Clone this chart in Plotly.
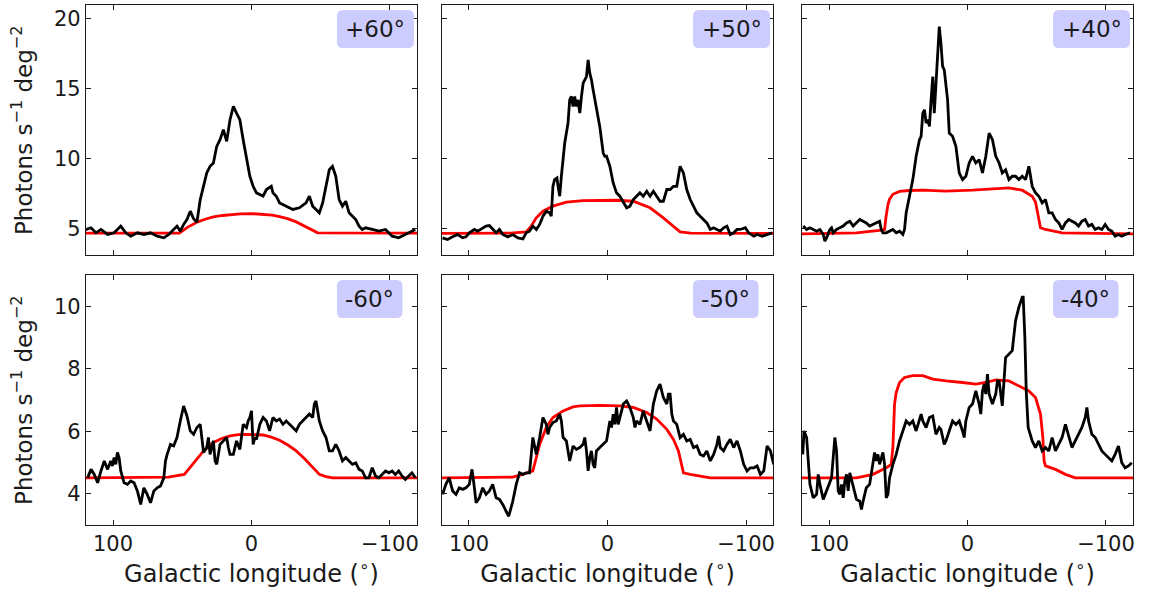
import plotly.graph_objects as go
from plotly.subplots import make_subplots

# ---------------- data ----------------
panel_labels = ["+60°", "+50°", "+40°", "-60°", "-50°", "-40°"]

# +60 deg : observed profile
lon_obs_p60 = [120, 115.9, 112.3, 108.7, 103.9, 99.2, 94.4, 90.8, 87.2, 82.4, 77.7, 72.9, 68.1, 63.3,
               59.7, 56.2, 53.8, 51.4, 49.0, 46.6, 44.2, 41.8, 39.4, 37.0, 34.6, 32.3, 29.9, 27.5,
               25.1, 22.7, 20.3, 17.9, 15.5, 13.1, 10.8, 8.4, 6.0, 3.6, 1.2, -1.2, -3.6, -6.0, -8.4,
               -10.8, -14.3, -15.5, -17.9, -20.3, -25.1, -29.9, -34.6, -39.4, -41.8, -44.2, -46.6,
               -49.0, -51.4, -53.8, -56.2, -58.5, -60.9, -63.3, -65.7, -68.1, -70.5, -75.3, -77.7,
               -80.0, -82.4, -87.2, -92.0, -96.8, -101.6, -106.3, -111.1, -115.9, -118.3]
flux_obs_p60 = [4.90, 5.05, 4.69, 4.93, 4.57, 4.69, 5.17, 4.69, 4.45, 4.69, 4.57, 4.69, 4.45, 4.33,
                4.57, 4.93, 5.17, 4.81, 5.29, 5.64, 6.24, 5.70, 5.45, 7.07, 8.02, 8.98, 9.45, 9.69,
                10.88, 11.36, 12.07, 11.24, 12.79, 13.74, 13.26, 12.79, 11.36, 9.93, 8.74, 8.02, 7.55,
                7.43, 7.31, 7.79, 8.02, 7.55, 7.31, 6.83, 6.60, 6.36, 6.48, 6.83, 7.31, 6.60, 6.36,
                6.12, 6.83, 8.02, 9.21, 9.45, 8.74, 7.07, 6.60, 6.95, 6.12, 5.64, 5.17,
                4.93, 5.05, 4.93, 4.81, 4.93, 4.45, 4.33, 4.57, 4.81, 4.93]
lon_mod_p60 = [120, 52, 46, 39.4, 33, 27.5, 21, 15.5, 8, 0, -8.4, -15, -20.3, -26, -32.3, -38,
               -44.2, -47.8, -120]
flux_mod_p60 = [4.67, 4.67, 5.1, 5.45, 5.68, 5.83, 5.93, 6.0, 6.05, 6.07, 6.03, 5.95, 5.85, 5.7,
                5.47, 5.18, 4.86, 4.69, 4.67]

# +50 deg
lon_obs_p50 = [119.1, 115.5, 111.8, 108.2, 104.6, 102.2, 99.8, 96.1, 93.7, 91.3, 87.7, 85.3, 82.9,
               80.4, 78.0, 75.6, 72.0, 68.4, 64.7, 61.1, 58.7, 56.3, 53.9, 51.4, 49.0, 46.6, 44.2,
               41.8, 40.6, 39.4, 38.2, 36.5, 35.7, 34.5, 33.3, 30.9, 28.5, 27.3, 26.1, 24.9, 23.7,
               22.5, 21.3, 20.0, 18.8, 17.6, 15.2, 14.0, 12.8, 11.6, 10.4, 8.0, 5.6, 3.1, 1.9, 0.7,
               -1.7, -4.1, -6.5, -8.9, -11.4, -13.8, -16.2, -18.6, -21.0, -23.4, -25.8, -28.3,
               -30.7, -33.1, -35.5, -37.9, -40.3, -42.8, -45.2, -47.6, -50.0, -52.4, -54.8, -57.2,
               -59.7, -62.1, -64.5, -66.9, -69.3, -71.7, -74.2, -76.6, -79.0, -81.4, -83.8, -86.2,
               -88.6, -91.1, -93.5, -95.9, -99.5, -101.9, -105.6, -108.0, -111.6, -115.2, -118.8]
flux_obs_p50 = [4.33, 4.21, 4.40, 4.57, 4.33, 4.40, 4.69, 4.93, 4.81, 4.98, 5.17, 5.21, 4.93,
                4.69, 4.93, 4.57, 4.40, 4.57, 4.33, 4.26, 4.69, 4.81, 5.17, 4.93, 5.29, 5.88, 6.24,
                6.12, 5.88, 8.02, 8.50, 8.62, 8.02, 7.31, 8.74, 11.12, 12.55, 14.21, 14.45, 13.74, 14.45,
                13.74, 14.21, 13.26, 14.45, 15.40, 15.88, 17.07, 16.12, 15.64, 14.93, 13.74, 12.31, 10.40,
                10.17, 10.17, 9.45, 8.26, 7.55, 7.31, 6.83, 6.48, 6.60, 7.07, 7.31, 7.55, 7.31, 7.67,
                7.31, 7.67, 7.31, 6.95, 6.95, 7.79, 7.79, 8.02, 8.02, 9.45, 8.98, 7.79,
                7.07, 6.60, 6.12, 5.88, 5.64, 5.40, 4.93, 5.05, 4.93, 4.81, 5.05, 5.17,
                4.57, 4.69, 4.93, 4.93, 5.05, 4.69, 4.45, 4.57, 4.45, 4.57, 4.69]
lon_mod_p50 = [120, 70, 58.7, 55.1, 51.4, 46.6, 39.4, 29.7, 17.6, 5.6, -6.5, -18.6, -30.7, -40.3,
               -47.6, -51.2, -52.4, -60, -120]
flux_mod_p50 = [4.65, 4.67, 4.76, 5.17, 5.76, 6.24, 6.6, 6.88, 7.0, 7.02, 7.02, 6.95, 6.48, 5.76,
                5.17, 4.86, 4.76, 4.67, 4.65]

# +40 deg
lon_obs_p40 = [118.6, 116.2, 113.8, 111.4, 109.0, 106.6, 104.2, 103.0, 101.8, 99.4, 98.2, 97.0,
               94.6, 92.2, 89.8, 87.4, 85.0, 82.6, 80.2, 77.8, 75.4, 73.1, 70.7, 68.3, 65.9, 63.5,
               62.3, 61.1, 58.7, 56.3, 53.9, 51.5, 49.1, 46.7, 45.5, 44.3, 41.9, 39.5, 37.1, 34.7,
               33.5, 32.3, 31.1, 29.9, 28.7, 27.5, 26.3, 25.1, 24.0, 22.8, 21.6, 20.4, 19.2, 18.0,
               16.8, 15.6, 14.4, 13.2, 10.8, 8.4, 6.0, 3.6, 1.2, -1.2, -3.6, -6.0, -8.4, -10.8,
               -13.2, -15.6, -18.0, -20.4, -22.8, -25.1, -27.5, -29.9, -32.3, -34.7, -37.1, -39.5,
               -41.9, -44.3, -46.7, -49.1, -51.5, -53.9, -56.3, -58.7, -61.1, -63.5, -65.9, -68.3,
               -70.7, -73.1, -75.4, -77.8, -80.2, -82.6, -85.0, -87.4, -89.8, -92.2, -94.6, -97.0,
               -99.4, -101.8, -104.2, -106.6, -109.0, -111.4, -113.8, -117.4]
flux_obs_p40 = [5.17, 4.93, 5.05, 4.93, 4.81, 4.93, 4.57, 4.10, 4.33, 4.93, 5.05, 4.69,
                4.93, 5.05, 5.17, 5.40, 5.52, 5.17, 5.40, 5.64, 5.52, 5.40, 5.17, 5.29, 5.40, 5.52,
                4.93, 4.69, 4.69, 4.81, 4.93, 4.69, 4.81, 4.57, 4.93, 6.12, 7.31, 8.50, 10.17, 11.36,
                11.60, 13.26, 13.50, 12.55, 12.79, 12.31, 14.21, 15.88, 13.26, 15.40, 17.07, 19.45, 18.26, 16.60,
                16.36, 15.40, 14.21, 11.83, 11.60, 10.88, 8.98, 8.50, 8.74, 9.69, 10.17, 9.69, 9.93, 8.98,
                10.17, 11.83, 11.36, 10.17, 9.69, 8.98, 9.21, 8.50, 8.74, 8.74, 8.50, 8.74,
                8.50, 9.45, 8.02, 7.55, 7.31, 6.83, 7.07, 6.12, 6.12, 5.64, 5.40, 4.93,
                5.40, 5.64, 5.52, 5.40, 5.17, 5.52, 5.64, 5.17, 5.29, 4.93, 5.05, 4.93,
                5.29, 4.93, 4.81, 4.45, 4.57, 4.45, 4.57, 4.69]
lon_mod_p40 = [120, 80.2, 63.5, 59.9, 58.9, 57.5, 56.3, 53.9, 49.1, 41.9, 32.3, 15.6, -3.6, -20.4,
               -29.9, -39.5, -46.7, -49.1, -50.3, -51.5, -52.7, -56.3, -68.3, -120]
flux_mod_p40 = [4.62, 4.69, 4.86, 4.93, 5.8, 6.7, 7.1, 7.45, 7.65, 7.72, 7.74, 7.67, 7.74, 7.83,
                7.90, 7.74, 7.31, 6.9, 6.36, 5.64, 5.05, 4.93, 4.69, 4.62]

# -60 deg
lon_obs_m60 = [118.3, 115.9, 113.5, 111.1, 108.7, 106.3, 103.9, 101.6, 100.4, 99.2, 98.0, 96.8,
               95.6, 94.4, 92.0, 89.6, 87.2, 84.8, 82.4, 80.0, 77.7, 75.3, 72.9, 70.5, 68.1, 65.7,
               63.3, 62.1, 60.9, 58.5, 56.2, 53.8, 51.4, 49.0, 46.6, 44.2, 41.8, 39.4, 37.0, 35.8,
               34.6, 32.3, 31.1, 29.9, 27.5, 26.3, 25.1, 22.7, 20.3, 17.9, 16.7, 15.5, 13.1, 10.8,
               8.4, 6.0, 3.6, 2.4, 1.2, 0.0, -1.2, -2.4, -3.6, -6.0, -8.4, -10.8, -13.1, -15.5,
               -17.9, -20.3, -22.7, -25.1, -27.5, -29.9, -32.3, -34.6, -37.0, -41.8, -44.2, -45.4,
               -46.6, -47.8, -49.0, -51.4, -53.8, -56.2, -58.5, -60.9, -63.3, -65.7, -68.1, -70.5,
               -72.9, -75.3, -77.7, -80.0, -82.4, -84.8, -87.2, -89.6, -92.0, -94.4, -96.8, -99.2,
               -101.6, -103.9, -106.3, -108.7, -111.1, -113.5, -115.9, -118.3]
flux_obs_m60 = [4.51, 4.78, 4.62, 4.35, 4.73, 5.05, 4.78, 5.05, 4.89, 5.16, 4.94, 5.32,
                5.16, 4.73, 4.35, 4.30, 4.41, 4.35, 4.09, 3.66, 4.19, 3.98, 3.71, 4.09, 4.19, 4.25,
                4.51, 5.05, 5.26, 5.58, 5.53, 5.80, 6.33, 6.81, 6.49, 6.01, 5.90, 6.12, 6.22, 5.69,
                5.32, 5.48, 5.80, 5.26, 5.69, 5.05, 4.94, 5.58, 5.69, 5.80, 5.48, 5.26, 5.26, 5.69,
                5.42, 6.22, 6.12, 6.33, 6.44, 6.65, 5.58, 5.80, 5.74, 6.22, 6.44, 6.33, 6.01, 6.44,
                6.33, 6.39, 6.22, 6.33, 6.22, 6.12, 6.01, 6.22, 6.33, 6.55, 6.44, 6.87,
                6.97, 6.65, 6.33, 6.01, 5.80, 5.37, 5.37, 5.58, 5.37, 5.05, 5.16, 5.05,
                4.94, 4.99, 4.78, 4.73, 4.51, 4.51, 4.83, 4.57, 4.51, 4.62, 4.73, 4.67,
                4.73, 4.62, 4.73, 4.57, 4.46, 4.57, 4.67, 4.51]
lon_mod_m60 = [120, 60, 48.5, 41.8, 34.6, 27.5, 21.5, 15.5, 9.5, 3.6, -2.4, -8.4, -14.3, -20.3,
               -26.3, -32.3, -38.2, -44.2, -49.0, -53.8, -58.5, -120]
flux_mod_m60 = [4.51, 4.53, 4.62, 4.99, 5.37, 5.64, 5.77, 5.85, 5.89, 5.90, 5.90, 5.88, 5.81, 5.71,
                5.56, 5.37, 5.13, 4.86, 4.62, 4.55, 4.51, 4.51]

# -50 deg
lon_obs_m50 = [119.1, 116.7, 114.3, 111.8, 109.4, 107.0, 104.6, 102.2, 99.8, 97.8, 96.1, 94.9,
               92.5, 90.1, 87.7, 85.3, 82.9, 80.4, 78.0, 75.6, 73.2, 71.3, 68.4, 65.9, 63.5, 61.1,
               58.7, 56.3, 53.9, 52.7, 51.4, 49.0, 46.6, 44.2, 43.0, 41.8, 39.4, 37.0, 34.5, 33.3,
               32.1, 29.7, 27.3, 24.9, 22.5, 20.0, 17.6, 16.4, 15.2, 14.0, 12.8, 11.6, 10.4, 9.2,
               8.0, 5.6, 3.1, 0.7, -0.5, -1.7, -2.9, -4.1, -5.3, -6.5, -7.7, -8.9, -11.4, -13.8,
               -16.2, -18.6, -19.8, -21.0, -23.4, -25.8, -28.3, -30.7, -31.9, -33.1, -35.5, -37.9,
               -40.3, -42.8, -44.0, -45.2, -46.4, -47.6, -50.0, -52.4, -54.8, -57.2, -59.7, -62.1,
               -64.5, -66.9, -69.3, -71.7, -74.2, -76.6, -79.0, -80.2, -81.4, -83.8, -86.2, -88.6,
               -91.1, -93.5, -95.9, -98.3, -100.7, -103.1, -105.6, -108.0, -110.4, -112.8, -115.2,
               -117.6, -120.0]
flux_obs_m50 = [3.98, 4.30, 4.51, 4.09, 3.98, 4.19, 4.14, 4.19, 4.30, 4.78, 4.19, 3.71,
                3.87, 4.19, 3.98, 4.09, 4.30, 3.87, 3.82, 3.66, 3.44, 3.28, 3.76, 4.30, 4.67, 4.62,
                4.67, 4.67, 5.80, 5.58, 5.26, 5.80, 6.44, 6.22, 5.90, 6.12, 6.28, 6.33, 6.55, 6.33,
                5.80, 5.69, 5.05, 5.53, 5.42, 5.48, 5.58, 5.80, 5.37, 4.73, 5.16, 5.37, 4.94, 4.83,
                5.37, 5.48, 5.58, 5.69, 6.01, 6.33, 6.12, 6.55, 6.22, 6.76, 6.22, 6.44, 6.87, 6.97,
                6.76, 6.44, 6.12, 6.33, 6.22, 6.65, 6.33, 6.01, 6.44, 6.87, 7.29, 7.51,
                7.08, 6.87, 7.19, 7.19, 6.55, 6.33, 6.22, 5.80, 5.90, 5.69, 5.74, 5.48,
                5.53, 5.26, 5.21, 5.37, 5.05, 5.26, 5.58, 5.85, 5.48, 5.37, 5.58, 5.74,
                5.48, 5.69, 5.37, 4.94, 4.73, 4.83, 4.83, 4.89, 4.62, 4.73, 5.53,
                5.37, 4.94]
lon_mod_m50 = [120, 78.0, 68.4, 61.1, 53.9, 51.4, 49.0, 44.2, 39.4, 32.1, 24.9, 20.0, 5.6, -8.9,
               -18.6, -28.3, -35.5, -42.8, -47.6, -51.2, -53.6, -54.8, -59.7, -66.9, -74.2, -120]
flux_mod_m50 = [4.51, 4.51, 4.53, 4.62, 4.73, 5.16, 5.58, 6.12, 6.44, 6.65, 6.78, 6.81, 6.83, 6.81,
                6.76, 6.60, 6.39, 6.06, 5.74, 5.37, 4.94, 4.67, 4.62, 4.57, 4.51, 4.51]

# -40 deg
lon_obs_m40 = [119.0, 118.1, 116.2, 115.0, 113.8, 111.4, 109.0, 107.8, 106.6, 104.2, 101.8, 99.4,
               98.2, 97.0, 95.8, 94.6, 93.4, 92.2, 91.0, 89.8, 88.6, 87.4, 86.2, 85.0, 82.6, 80.2,
               77.8, 76.6, 75.4, 73.1, 70.7, 68.3, 67.1, 65.9, 64.7, 63.5, 61.1, 59.9, 58.7, 57.5,
               56.3, 53.9, 51.5, 49.1, 46.7, 44.3, 41.9, 39.5, 37.1, 34.7, 33.5, 32.3, 29.9, 27.5,
               25.1, 22.8, 20.4, 19.2, 16.8, 15.6, 13.2, 10.8, 8.4, 6.0, 3.6, 2.4, 1.2, -1.2, -3.6,
               -6.0, -8.4, -9.6, -10.8, -12.0, -13.2, -14.4, -15.6, -18.0, -20.4, -21.6, -22.8,
               -25.1, -27.5, -29.9, -32.3, -34.7, -37.1, -39.5, -40.2, -41.4, -42.4, -43.8, -45.5,
               -46.7, -49.1, -51.5, -53.9, -56.3, -58.7, -61.1, -63.5, -65.9, -68.3, -70.7, -73.1,
               -75.4, -77.8, -80.2, -82.6, -85.0, -86.2, -87.4, -89.8, -92.2, -94.6, -97.0, -99.4,
               -101.8, -104.2, -106.6, -109.0, -111.4, -113.8, -116.2, -118.6]
flux_obs_m40 = [5.26, 6.01, 5.80, 4.94, 4.30, 3.87, 3.98, 4.62, 4.30, 3.82, 4.09, 4.41,
                4.51, 5.16, 5.80, 5.37, 4.09, 3.98, 4.30, 3.87, 4.41, 4.62, 4.09, 4.67, 4.19, 3.82,
                3.76, 3.50, 3.76, 4.19, 4.30, 4.94, 5.32, 5.05, 5.26, 4.94, 5.32, 4.94, 3.87, 3.98,
                4.51, 4.94, 5.26, 5.69, 6.01, 6.33, 6.22, 6.33, 6.01, 6.33, 6.55, 6.33, 6.12, 6.44,
                6.49, 5.90, 6.12, 6.06, 5.58, 5.69, 6.01, 6.33, 6.22, 6.33, 6.01, 5.80, 6.33, 6.76,
                6.87, 7.29, 6.87, 6.55, 7.29, 7.51, 7.19, 7.83, 7.19, 6.87, 7.19, 7.61, 7.61,
                6.81, 8.36, 8.47, 8.58, 9.54, 9.97, 10.29, 10.29, 9.01, 7.29, 6.12, 5.90,
                5.69, 5.48, 5.69, 5.37, 5.48, 5.37, 5.80, 5.37, 5.58, 5.80, 6.22, 5.80,
                5.48, 5.69, 5.90, 6.12, 6.44, 6.76, 6.33, 5.90, 5.80, 5.58, 5.37, 5.26,
                5.16, 5.05, 5.26, 5.53, 4.99, 4.83, 4.89, 4.99]
lon_mod_m40 = [120, 80.2, 68.3, 58.7, 55.1, 53.9, 52.7, 51.5, 49.1, 45.5, 39.5, 32.3, 25.1, 15.6,
               3.6, -6.0, -13.2, -20.4, -29.9, -37.1, -44.3, -49.1, -52.7, -54.4, -55.3, -56.3,
               -63.5, -70.7, -77.8, -120]
flux_mod_m40 = [4.51, 4.51, 4.62, 4.83, 4.94, 5.48, 6.87, 7.24, 7.56, 7.72, 7.78, 7.78, 7.67, 7.61,
                7.56, 7.51, 7.56, 7.64, 7.61, 7.45, 7.29, 7.08, 6.55, 5.80, 5.05, 4.89, 4.78, 4.62,
                4.51, 4.51]

obs_lon = [lon_obs_p60, lon_obs_p50, lon_obs_p40, lon_obs_m60, lon_obs_m50, lon_obs_m40]
obs_flux = [flux_obs_p60, flux_obs_p50, flux_obs_p40, flux_obs_m60, flux_obs_m50, flux_obs_m40]
mod_lon = [lon_mod_p60, lon_mod_p50, lon_mod_p40, lon_mod_m60, lon_mod_m50, lon_mod_m40]
mod_flux = [flux_mod_p60, flux_mod_p50, flux_mod_p40, flux_mod_m60, flux_mod_m50, flux_mod_m40]

x_ticks = [100, 0, -100]
x_ticktext = ["100", "0", "\u2212100"]
y_ticks_top = [5, 10, 15, 20]
y_ticks_bottom = [4, 6, 8, 10]

# ---------------- figure ----------------
W, H = 1150, 589
ML, MR, MT, MB = 86, 17, 5, 64
fig = make_subplots(rows=2, cols=3)

FONT = "DejaVu Sans"
col_dom = [(0.0, 0.3161), (0.3400, 0.6562), (0.6839, 1.0)]
row_dom = [(0.5192, 1.0), (0.0, 0.4808)]

for i in range(6):
    r, c = divmod(i, 3)
    fig.add_trace(go.Scatter(x=mod_lon[i], y=mod_flux[i], mode="lines",
                             line=dict(color="#ff0000", width=2.8), showlegend=False,
                             hoverinfo="skip"), row=r + 1, col=c + 1)
    fig.add_trace(go.Scatter(x=obs_lon[i], y=obs_flux[i], mode="lines",
                             line=dict(color="black", width=2.8), showlegend=False),
                  row=r + 1, col=c + 1)

axis_common = dict(showline=True, linecolor="#1a1a1a", linewidth=1.2, mirror="allticks",
                   ticks="inside", ticklen=5, tickwidth=1.1, tickcolor="#1a1a1a",
                   showgrid=False, zeroline=False, automargin=False,
                   tickfont=dict(family=FONT, size=21, color="#1a1a1a"))

for i in range(6):
    r, c = divmod(i, 3)
    xa = "xaxis" if i == 0 else f"xaxis{i + 1}"
    ya = "yaxis" if i == 0 else f"yaxis{i + 1}"
    xd = dict(axis_common, domain=list(col_dom[c]), range=[119.5, -119.5],
              tickmode="array", tickvals=x_ticks, ticktext=x_ticktext,
              showticklabels=(r == 1))
    if r == 1:
        xd["title"] = dict(text="Galactic longitude (<sup>\u2218</sup>)",
                           font=dict(family=FONT, size=24, color="#1a1a1a"), standoff=4)
    yd = dict(axis_common, domain=list(row_dom[r]),
              range=[3.1, 21] if r == 0 else [3, 11],
              tickmode="array", tickvals=y_ticks_top if r == 0 else y_ticks_bottom,
              showticklabels=(c == 0))
    fig.layout[xa].update(xd)
    fig.layout[ya].update(yd)

# y-axis titles as annotations
for r in range(2):
    fig.add_annotation(text="Photons s<sup>\u22121</sup> deg<sup>\u22122</sup>",
                       xref="paper", yref="paper", x=(22 - ML) / (W - ML - MR),
                       y=sum(row_dom[r]) / 2, textangle=-90, showarrow=False,
                       xanchor="center", yanchor="middle",
                       font=dict(family=FONT, size=23, color="#1a1a1a"))

# panel labels in rounded boxes
for i in range(6):
    r, c = divmod(i, 3)
    xs = "x" if i == 0 else f"x{i + 1}"
    ys = "y" if i == 0 else f"y{i + 1}"
    x0 = 251 / 331
    x1 = (328 if r == 0 else 316.5) / 331
    y1 = 1 - 5 / 250
    y0 = 1 - 43 / 250
    rx, ry = 6 / 331, 6 / 250
    path = (f"M {x0 + rx},{y0} L {x1 - rx},{y0} Q {x1},{y0} {x1},{y0 + ry} "
            f"L {x1},{y1 - ry} Q {x1},{y1} {x1 - rx},{y1} L {x0 + rx},{y1} "
            f"Q {x0},{y1} {x0},{y1 - ry} L {x0},{y0 + ry} Q {x0},{y0} {x0 + rx},{y0} Z")
    fig.add_shape(type="path", path=path, xref=f"{xs} domain", yref=f"{ys} domain",
                  fillcolor="#ccccff", line=dict(width=0), layer="above")
    fig.add_annotation(text=panel_labels[i], xref=f"{xs} domain", yref=f"{ys} domain",
                       x=(x0 + x1) / 2, y=(y0 + y1) / 2, showarrow=False,
                       xanchor="center", yanchor="middle",
                       font=dict(family=FONT, size=23, color="#1a1a1a"))

fig.update_layout(width=W, height=H, margin=dict(l=ML, r=MR, t=MT, b=MB),
                  plot_bgcolor="white", paper_bgcolor="white",
                  font=dict(family=FONT, color="#1a1a1a"))

# remove the browser's default page margin so the figure sits at the window origin
fig.write_html("out.html", config={"displayModeBar": False},
               post_script="document.body.style.margin='0px';")
